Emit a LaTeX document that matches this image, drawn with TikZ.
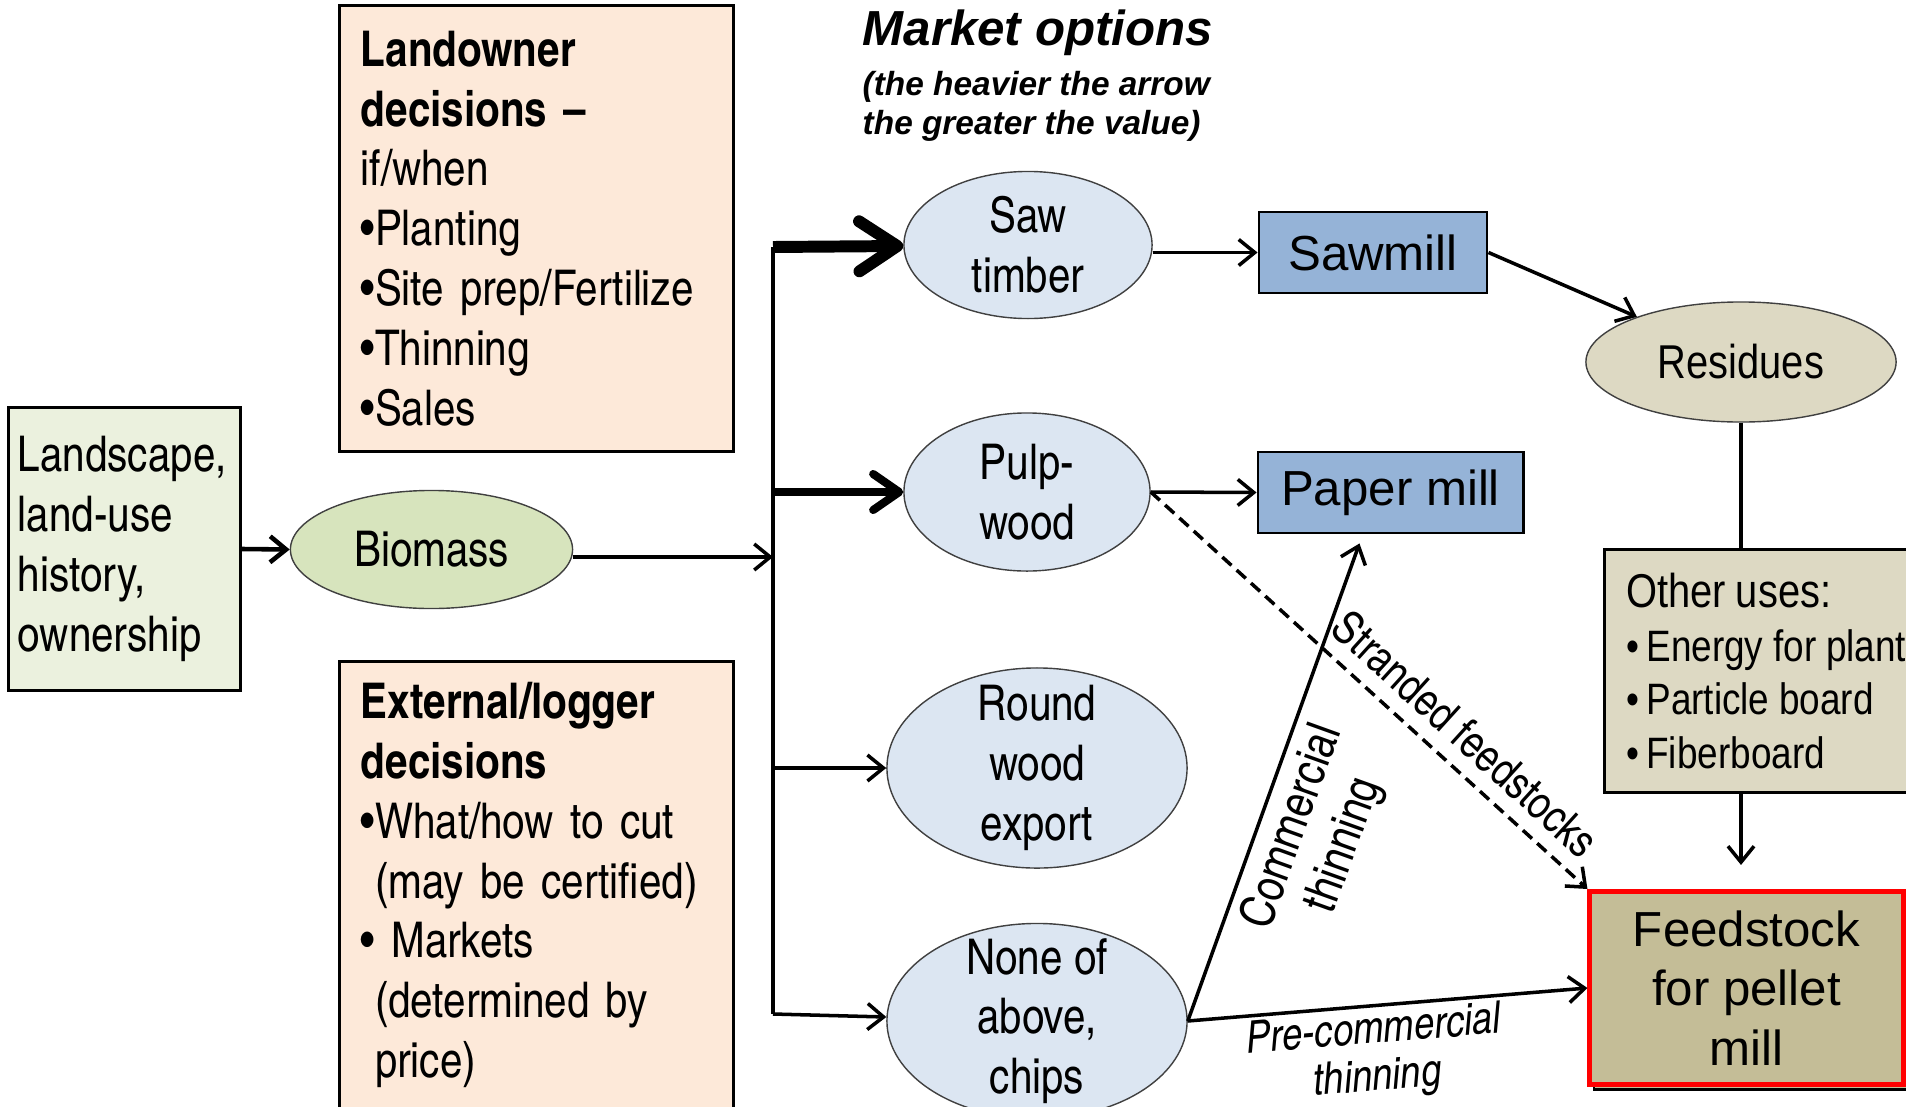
\documentclass[tikz,border=0pt]{standalone}
\usepackage{fontspec}
\setmainfont{texgyreheroscn}[Extension=.otf, UprightFont=*-regular, BoldFont=*-bold, ItalicFont=*-italic, BoldItalicFont=*-bolditalic]
\newfontfamily\armfont{Liberation Sans}
\newfontfamily\resfont{Liberation Sans}[FakeStretch=0.84]
\newcommand\tightspaces{\spaceskip=2.8pt\relax}
\usetikzlibrary{arrows.meta,shapes.geometric,shadows}

\definecolor{landgreen}{HTML}{EBF1DE}
\definecolor{biogreen}{HTML}{D7E4BD}
\definecolor{peach}{HTML}{FDE9D9}
\definecolor{ovalblue}{HTML}{DCE6F2}
\definecolor{millblue}{HTML}{95B3D7}
\definecolor{restan}{HTML}{DDD9C3}
\definecolor{feedtan}{HTML}{C4BD97}

\begin{document}
\begin{tikzpicture}[x=0.01cm,y=-0.01cm,
    every node/.style={font=\fontsize{14}{17}\selectfont},
    box/.style={draw=black,line width=0.8pt,rectangle,inner ysep=0pt},
    oval/.style={ellipse,draw=black!75,line width=0.4pt,fill=ovalblue,inner sep=-0.2cm,align=center},
    mill/.style={box,fill=millblue,minimum height=0.81cm,font=\armfont\fontsize{14}{17}\selectfont},
    flow/.style={line width=1pt,-{Straight Barb[length=0.16cm,width=0.26cm]}},
    midflow/.style={line width=2.3pt,-{Straight Barb[round,length=0.26cm,width=0.36cm]}},
    heavyflow/.style={line width=3.4pt,-{Straight Barb[round,length=0.38cm,width=0.5cm]}},
    lbl/.style={font=\fontsize{13.8}{15.5}\selectfont,align=center,inner sep=1pt}]
  \useasboundingbox (0,0) rectangle (1906,1106);

  % left column
  \node[box,fill=landgreen,text width=2.13cm,inner xsep=0.095cm,minimum height=2.83cm,align=left] (land) at (124.5,549) {Landscape,\\land-use\\history,\\ownership};
  \node[oval,fill=biogreen,minimum width=2.82cm,minimum height=1.18cm] (bio) at (431.5,549.5) {Biomass};
  \node[box,fill=peach,text width=3.51cm,inner xsep=0.21cm,minimum height=4.45cm,align=left] (owner) at (536.5,228.5)
    {\textbf{Landowner}\\\textbf{decisions} \textbf{–}\\if/when\\•Planting\\•Site prep/Fertilize\\•Thinning\\•Sales};
  \node[box,fill=peach,text width=3.51cm,inner xsep=0.21cm,minimum height=4.46cm,align=left] (logger) at (536.5,885)
    {\textbf{External/logger}\\\textbf{decisions}\\•What/how to cut\\\hphantom{•}(may be certified)\\• Markets\\\hphantom{•}(determined by\\\hphantom{•}price)};

  % market options
  \node[anchor=west,inner sep=0pt,font=\armfont\bfseries\itshape\fontsize{14}{17}\selectfont] (title) at (862,33) {Market options};
  \node[anchor=north west,inner sep=0pt,align=left,font=\armfont\bfseries\itshape\fontsize{9.5}{11}\selectfont] (note) at (862,71) {(the heavier the arrow\\the greater the value)};

  \coordinate (tsaw) at (773,247);
  \coordinate (tpulp) at (773,492);
  \coordinate (tbio) at (773,557);
  \coordinate (tround) at (773,768);
  \coordinate (tnone) at (773,1014);

  \node[oval,minimum width=2.48cm,minimum height=1.47cm] (saw) at (1028,245) {Saw\\timber};
  \node[oval,minimum width=2.46cm,minimum height=1.58cm] (pulp) at (1027,492) {Pulp-\\wood};
  \node[oval,minimum width=3cm,minimum height=2cm] (round) at (1037,768) {Round\\wood\\export};
  \node[oval,minimum width=3cm,minimum height=1.95cm] (none) at (1037,1021) {None of\\above,\\chips};

  % mills and uses
  \node[mill,minimum width=2.28cm] (mill) at (1373,252.5) {Sawmill};
  \node[mill,minimum width=2.65cm] (paper) at (1390.5,492.5) {Paper mill};
  \node[oval,fill=restan,minimum width=3.1cm,minimum height=1.2cm,font=\resfont\fontsize{13.5}{16}\selectfont] (res) at (1741,362) {Residues};
  \node[box,fill=restan,anchor=north west,text width=3.4cm,inner xsep=0.22cm,minimum height=2.43cm,align=left,font=\resfont\fontsize{12.5}{15.2}\selectfont] (other) at (1603,548)
    {\tightspaces{\fontsize{13.5}{15.2}\selectfont Other uses:}\\•\hspace{2pt}Energy for plant\\•\hspace{2pt}Particle board\\•\hspace{2pt}Fiberboard};
  \node[box,draw=red,line width=1.4pt,fill=feedtan,minimum width=3.13cm,minimum height=1.93cm,align=center,font=\armfont\fontsize{14}{17}\selectfont,
    copy shadow={shadow xshift=0.04cm,shadow yshift=-0.05cm,draw=black,fill=feedtan,line width=0.8pt}] (feed) at (1746.5,988) {Feedstock\\for pellet\\mill};

  % connectors
  \draw[flow,line width=1.3pt] (land.east) -- (bio.west);
  \draw[flow] (bio.east |- tbio) -- (tbio);
  \draw[line width=1pt] (tsaw) -- (tnone);
  \draw[heavyflow] (tsaw) -- (saw);
  \draw[midflow] (tpulp) -- (pulp);
  \draw[flow] (tround) -- (round);
  \draw[flow] (tnone) -- (none);
  \draw[flow] (saw.east |- mill.west) -- (mill.west);
  \draw[flow] (pulp.east) -- (paper.west);
  \draw[flow] (mill.east) -- (res);
  \draw[line width=1pt] (res.south) -- (res.south |- other.north);
  \draw[flow,shorten >=0.24cm] (res.south |- other.south) -- (res.south |- feed.north);
  \draw[flow,dash pattern=on 3.5pt off 2pt] (pulp.east) -- (feed.north west)
    node[lbl,pos=0.67,sloped,above,inner sep=4pt,font=\fontsize{13}{15}\selectfont] {Stranded feedstocks};
  \draw[flow] (none.east) -- ([xshift=-0.31cm,yshift=-0.09cm]paper.south)
    node[lbl,pos=0.43,sloped,below,inner sep=2.5pt] {Commercial\\thinning};
  \draw[flow] (none.east) -- (feed.west)
    node[lbl,pos=0.46,sloped,below,font=\fontsize{12.7}{13.5}\selectfont\itshape] {Pre-commercial\\thinning};
\end{tikzpicture}
\end{document}
